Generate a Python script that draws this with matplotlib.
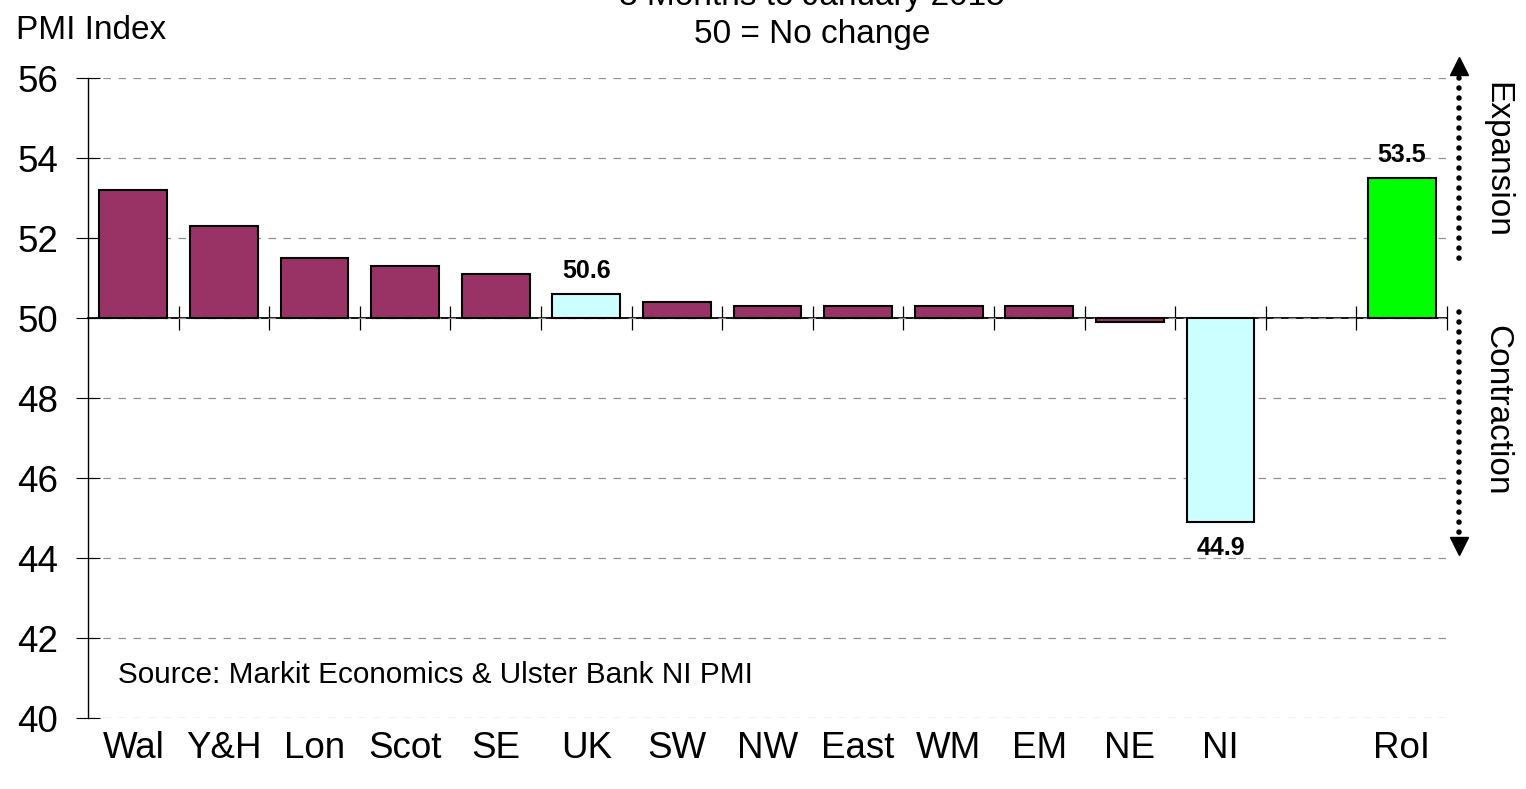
import matplotlib
matplotlib.use('Agg')
import matplotlib.pyplot as plt

plt.rcParams['font.family'] = ['Liberation Sans', 'DejaVu Sans']

# ---- data ----
categories = ['Wal', 'Y&H', 'Lon', 'Scot', 'SE', 'UK', 'SW', 'NW', 'East',
              'WM', 'EM', 'NE', 'NI', '', 'RoI']
values = [53.2, 52.3, 51.5, 51.3, 51.1, 50.6, 50.4, 50.3, 50.3,
          50.3, 50.3, 49.9, 44.9, None, 53.5]
bar_colors = ['#993366'] * 5 + ['#CCFFFF'] + ['#993366'] * 6 + ['#CCFFFF', 'none', '#00FF00']
labelled = ['UK', 'NI', 'RoI']
baseline = 50
y_ticks = [40, 42, 44, 46, 48, 50, 52, 54, 56]
title_lines = ['3 Months to January 2015', '50 = No change']

W, H = 1526, 789
fig = plt.figure(figsize=(W / 100, H / 100), dpi=100)
fig.patch.set_facecolor('white')

ax = fig.add_axes([88 / W, 1 - 718 / H, (1447 - 88) / W, (718 - 78) / H])
n = len(categories)
ax.set_xlim(0, n)
ax.set_ylim(40, 56)

xs = [i + 0.5 for i in range(n)]
for x, v, c, cat in zip(xs, values, bar_colors, categories):
    if v is None:
        continue
    ax.bar(x, v - baseline, bottom=baseline, width=0.75, color=c,
           edgecolor='black', linewidth=1.5, zorder=3)
    if cat in labelled:
        if v >= baseline:
            ax.annotate(f'{v:.1f}', (x, v), xytext=(0, 11.5), textcoords='offset points',
                        ha='center', va='baseline', fontsize=18, fontweight='bold')
        else:
            ax.annotate(f'{v:.1f}', (x, v), xytext=(0, -10), textcoords='offset points',
                        ha='center', va='top', fontsize=18, fontweight='bold')

# grid
ax.set_yticks(y_ticks)
ax.yaxis.grid(True, color='#909090', linestyle=(0, (6, 6)), linewidth=0.9, zorder=0)
ax.set_axisbelow(True)
for s in ['top', 'right', 'bottom']:
    ax.spines[s].set_visible(False)
ax.spines['left'].set_linewidth(1.0)
ax.tick_params(axis='y', direction='inout', length=17, width=0.8, labelsize=26.5, pad=13)

ax.set_xticks(xs)
ax.set_xticklabels(categories)
ax.tick_params(axis='x', length=0, labelsize=26.5, pad=9)

# zero line with boundary ticks
sec = ax.secondary_xaxis((baseline - 40) / 16)
sec.set_xticks(range(1, n + 1))
sec.tick_params(direction='inout', length=17, width=0.9, labelbottom=False, labeltop=False)
sec.set_xticklabels([])
sec.spines['bottom'].set_linewidth(1.3)
sec.spines['top'].set_linewidth(1.3)
sec.spines['bottom'].set_zorder(4)

# expansion / contraction arrows
xa = n + 0.133
ax.plot([xa, xa], [56.0, 51.4], color='black', lw=4.0, linestyle=(0, (0.001, 1.8)),
        dash_capstyle='round', clip_on=False)
ax.plot([xa, xa], [50.15, 44.55], color='black', lw=4.0, linestyle=(0, (0.001, 1.8)),
        dash_capstyle='round', clip_on=False)
ax.plot([xa], [56.3], marker='^', color='black', markersize=13, clip_on=False)
ax.plot([xa], [44.3], marker='v', color='black', markersize=13, clip_on=False)

fig.text(1497 / W, 1 - 160 / H, 'Expansion', rotation=-90, fontsize=24,
         ha='center', va='center')
fig.text(1497 / W, 1 - 410 / H, 'Contraction', rotation=-90, fontsize=24,
         ha='center', va='center')

# titles
fig.text(812 / W, 1 - 5 / H, title_lines[0], fontsize=24, ha='center', va='baseline')
fig.text(812 / W, 1 - 43 / H, title_lines[1], fontsize=24, ha='center', va='baseline')
fig.text(16 / W, 1 - 15 / H, 'PMI Index', fontsize=24, ha='left', va='top')
fig.text(118 / W, 1 - 683 / H, 'Source: Markit Economics & Ulster Bank NI PMI',
         fontsize=21.4, ha='left', va='baseline')

fig.savefig('out.png', dpi=100)
